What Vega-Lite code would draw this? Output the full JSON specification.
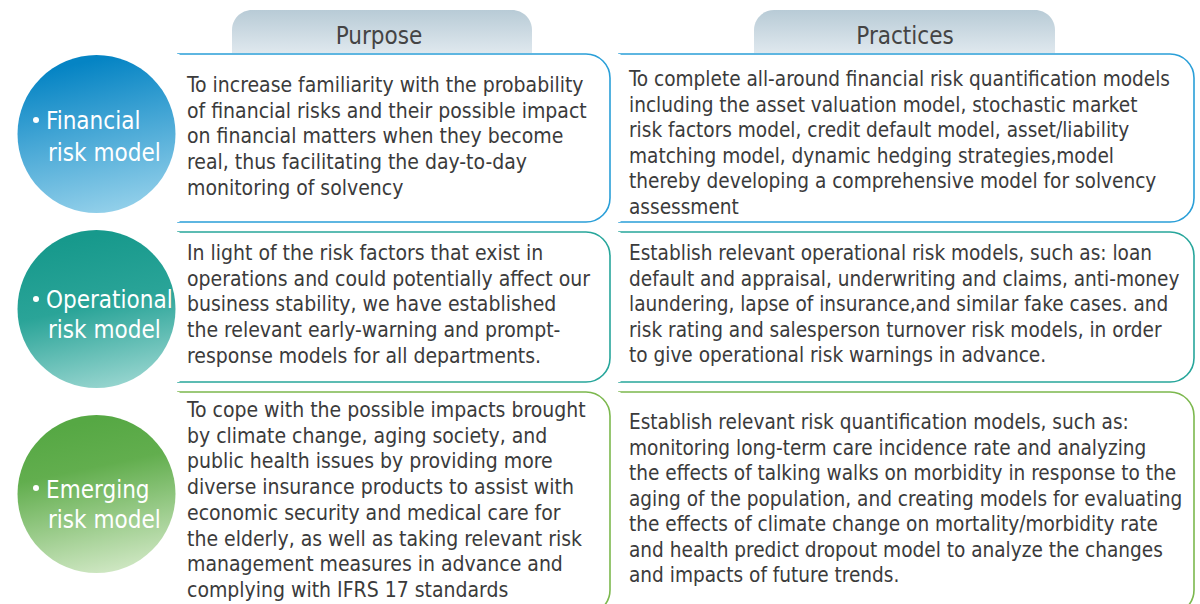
{
  "$schema": "https://vega.github.io/schema/vega-lite/v6.json",
  "width": 1200,
  "height": 604,
  "autosize": {"type": "none"},
  "padding": 0,
  "background": "white",
  "config": {"view": {"stroke": null}},
  "datasets": {
    "tabs": [
      {"label": "Purpose", "x1": 232, "x2": 532, "y1": 10, "y2": 53, "cx": 379, "ty": 44},
      {"label": "Practices", "x1": 754, "x2": 1055, "y1": 10, "y2": 53, "cx": 905, "ty": 44}
    ],
    "boxes": [
      {"model": "Financial", "col": "Purpose", "x1": 178, "x2": 610, "y1": 54, "y2": 222},
      {"model": "Financial", "col": "Practices", "x1": 619, "x2": 1194, "y1": 54, "y2": 222},
      {"model": "Operational", "col": "Purpose", "x1": 178, "x2": 610, "y1": 232, "y2": 382},
      {"model": "Operational", "col": "Practices", "x1": 619, "x2": 1194, "y1": 232, "y2": 382},
      {"model": "Emerging", "col": "Purpose", "x1": 178, "x2": 610, "y1": 392, "y2": 614},
      {"model": "Emerging", "col": "Practices", "x1": 619, "x2": 1194, "y1": 392, "y2": 614}
    ],
    "circles": [
      {"model": "Financial", "cx": 96.5, "cy": 134, "bx": 36, "by": 120},
      {"model": "Operational", "cx": 96.5, "cy": 309, "bx": 36, "by": 299},
      {"model": "Emerging", "cx": 96.5, "cy": 494, "bx": 36, "by": 488}
    ],
    "labels": [
      {"model": "Financial", "x": 46, "y": 129, "text": "Financial"},
      {"model": "Financial", "x": 48, "y": 161, "text": "risk model"},
      {"model": "Operational", "x": 46, "y": 308, "text": "Operational"},
      {"model": "Operational", "x": 48, "y": 338, "text": "risk model"},
      {"model": "Emerging", "x": 46, "y": 498, "text": "Emerging"},
      {"model": "Emerging", "x": 48, "y": 528, "text": "risk model"}
    ],
    "paragraphs": [
      {"model": "Financial", "col": "Purpose", "x": 187, "y": 92, "text": "To increase familiarity with the probability\nof financial risks and their possible impact\non financial matters when they become\nreal, thus facilitating the day-to-day\nmonitoring of solvency"},
      {"model": "Financial", "col": "Practices", "x": 629, "y": 86, "text": "To complete all-around financial risk quantification models\nincluding the asset valuation model, stochastic market\nrisk factors model, credit default model, asset/liability\nmatching model, dynamic hedging strategies,model\nthereby developing a comprehensive model for solvency\nassessment"},
      {"model": "Operational", "col": "Purpose", "x": 187, "y": 260, "text": "In light of the risk factors that exist in\noperations and could potentially affect our\nbusiness stability, we have established\nthe relevant early-warning and prompt-\nresponse models for all departments."},
      {"model": "Operational", "col": "Practices", "x": 629, "y": 260, "text": "Establish relevant operational risk models, such as: loan\ndefault and appraisal, underwriting and claims, anti-money\nlaundering, lapse of insurance,and similar fake cases. and\nrisk rating and salesperson turnover risk models, in order\nto give operational risk warnings in advance."},
      {"model": "Emerging", "col": "Purpose", "x": 187, "y": 417, "text": "To cope with the possible impacts brought\nby climate change, aging society, and\npublic health issues by providing more\ndiverse insurance products to assist with\neconomic security and medical care for\nthe elderly, as well as taking relevant risk\nmanagement measures in advance and\ncomplying with IFRS 17 standards"},
      {"model": "Emerging", "col": "Practices", "x": 629, "y": 429, "text": "Establish relevant risk quantification models, such as:\nmonitoring long-term care incidence rate and analyzing\nthe effects of talking walks on morbidity in response to the\naging of the population, and creating models for evaluating\nthe effects of climate change on mortality/morbidity rate\nand health predict dropout model to analyze the changes\nand impacts of future trends."}
    ]
  },
  "layer": [
    {
      "data": {"name": "tabs"},
      "mark": {"type": "rect", "cornerRadiusTopLeft": 20, "cornerRadiusTopRight": 20,
        "fill": {"gradient": "linear", "x1": 0, "y1": 0, "x2": 0, "y2": 1,
          "stops": [{"offset": 0, "color": "#b8cbd6"}, {"offset": 1, "color": "#dfe8ee"}]}},
      "encoding": {
        "x": {"field": "x1", "type": "quantitative", "scale": {"domain": [0, 1200], "nice": false, "zero": false}, "axis": null},
        "x2": {"field": "x2"},
        "y": {"field": "y1", "type": "quantitative", "scale": {"domain": [0, 604], "reverse": true, "nice": false, "zero": false}, "axis": null},
        "y2": {"field": "y2"}
      }
    },
    {
      "data": {"name": "boxes"},
      "mark": {"type": "rect", "fill": "white", "strokeWidth": 1.6, "cornerRadiusTopRight": 24, "cornerRadiusBottomRight": 24, "clip": true},
      "encoding": {
        "x": {"field": "x1", "type": "quantitative", "axis": null},
        "x2": {"field": "x2"},
        "y": {"field": "y1", "type": "quantitative", "axis": null},
        "y2": {"field": "y2"},
        "stroke": {"field": "model", "type": "nominal", "legend": null,
          "scale": {"domain": ["Financial", "Operational", "Emerging"], "range": ["#2a9fd8", "#27a69b", "#7cb84e"]}}
      }
    },
    {
      "data": {"name": "boxes"},
      "mark": {"type": "rule", "color": "white", "strokeWidth": 3, "clip": true},
      "encoding": {
        "x": {"field": "x1", "type": "quantitative", "axis": null},
        "y": {"field": "y1", "type": "quantitative", "axis": null},
        "y2": {"field": "y2"}
      }
    },
    {
      "data": {"name": "circles"},
      "transform": [{"filter": "datum.model === 'Financial'"}],
      "mark": {"type": "point", "shape": "circle", "filled": true, "size": 24964, "opacity": 1,
        "fill": {"gradient": "linear", "x1": 0.4, "y1": 0.05, "x2": 0.6, "y2": 1,
          "stops": [{"offset": 0, "color": "#0584c4"}, {"offset": 1, "color": "#93d0ea"}]}},
      "encoding": {
        "x": {"field": "cx", "type": "quantitative", "axis": null},
        "y": {"field": "cy", "type": "quantitative", "axis": null}
      }
    },
    {
      "data": {"name": "circles"},
      "transform": [{"filter": "datum.model === 'Operational'"}],
      "mark": {"type": "point", "shape": "circle", "filled": true, "size": 24964, "opacity": 1,
        "fill": {"gradient": "linear", "x1": 0.4, "y1": 0.05, "x2": 0.6, "y2": 1,
          "stops": [{"offset": 0, "color": "#17998c"}, {"offset": 0.45, "color": "#2aa498"}, {"offset": 1, "color": "#97d5cf"}]}},
      "encoding": {
        "x": {"field": "cx", "type": "quantitative", "axis": null},
        "y": {"field": "cy", "type": "quantitative", "axis": null}
      }
    },
    {
      "data": {"name": "circles"},
      "transform": [{"filter": "datum.model === 'Emerging'"}],
      "mark": {"type": "point", "shape": "circle", "filled": true, "size": 24964, "opacity": 1,
        "fill": {"gradient": "linear", "x1": 0.4, "y1": 0.05, "x2": 0.6, "y2": 1,
          "stops": [{"offset": 0, "color": "#56a844"}, {"offset": 0.3, "color": "#62ae4e"}, {"offset": 1, "color": "#cfe7c3"}]}},
      "encoding": {
        "x": {"field": "cx", "type": "quantitative", "axis": null},
        "y": {"field": "cy", "type": "quantitative", "axis": null}
      }
    },
    {
      "data": {"name": "circles"},
      "mark": {"type": "point", "shape": "circle", "filled": true, "size": 36, "color": "white", "opacity": 1},
      "encoding": {
        "x": {"field": "bx", "type": "quantitative", "axis": null},
        "y": {"field": "by", "type": "quantitative", "axis": null}
      }
    },
    {
      "data": {"name": "labels"},
      "mark": {"type": "text", "align": "left", "baseline": "alphabetic", "color": "white",
        "font": "DejaVu Sans Condensed, sans-serif", "fontSize": 24},
      "encoding": {
        "x": {"field": "x", "type": "quantitative", "axis": null},
        "y": {"field": "y", "type": "quantitative", "axis": null},
        "text": {"field": "text"}
      }
    },
    {
      "data": {"name": "tabs"},
      "mark": {"type": "text", "align": "center", "baseline": "alphabetic", "color": "#444444",
        "font": "DejaVu Sans Condensed, sans-serif", "fontSize": 24},
      "encoding": {
        "x": {"field": "cx", "type": "quantitative", "axis": null},
        "y": {"field": "ty", "type": "quantitative", "axis": null},
        "text": {"field": "label"}
      }
    },
    {
      "data": {"name": "paragraphs"},
      "transform": [{"filter": "datum.col === 'Purpose'"}],
      "mark": {"type": "text", "align": "left", "baseline": "alphabetic", "color": "#3b3b3b",
        "font": "DejaVu Sans Condensed, sans-serif", "fontSize": 21,
        "lineBreak": "\n", "lineHeight": 25.7},
      "encoding": {
        "x": {"field": "x", "type": "quantitative", "axis": null},
        "y": {"field": "y", "type": "quantitative", "axis": null},
        "text": {"field": "text"}
      }
    },
    {
      "data": {"name": "paragraphs"},
      "transform": [{"filter": "datum.col === 'Practices'"}],
      "mark": {"type": "text", "align": "left", "baseline": "alphabetic", "color": "#3b3b3b",
        "font": "DejaVu Sans Condensed, sans-serif", "fontSize": 20.6,
        "lineBreak": "\n", "lineHeight": 25.5},
      "encoding": {
        "x": {"field": "x", "type": "quantitative", "axis": null},
        "y": {"field": "y", "type": "quantitative", "axis": null},
        "text": {"field": "text"}
      }
    }
  ]
}
